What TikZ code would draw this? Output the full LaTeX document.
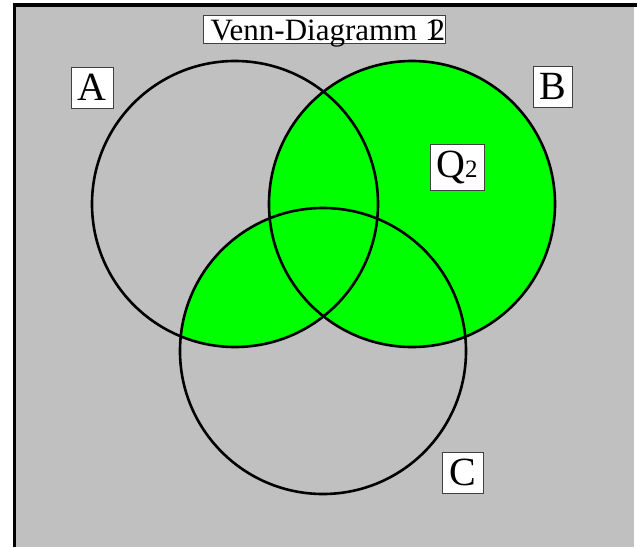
\documentclass[tikz,border=0pt]{standalone}
\usepackage{fontspec}
\setmainfont{Liberation Serif}
\definecolor{bg}{HTML}{C0C0C0}
\definecolor{vgreen}{HTML}{00FF00}
\begin{document}
\begin{tikzpicture}[x=1pt,y=-1pt,
  lblbox/.style={draw=black!75, line width=0.9pt, fill=white, inner sep=0pt, font=\fontsize{40}{40}\selectfont},
  circ/.style={draw=black, line width=2.6pt},
  ttext/.style={inner sep=0pt, font=\fontsize{31}{31}\selectfont}]
\useasboundingbox (0,0) rectangle (640,547);
\fill[white] (0,0) rectangle (640,547);
\fill[bg] (16,7) rectangle (634,547);
\draw[line width=4pt] (12.5,5.3) -- (637,5.3);
\draw[line width=3.5pt] (14.5,3.3) -- (14.5,547);
% green region: B union (A cap C)
\fill[vgreen] (412,204) circle[radius=143];
\begin{scope}
  \clip (235,204) circle[radius=143];
  \fill[vgreen] (323,351) circle[radius=143];
\end{scope}
% circles
\draw[circ] (235,204) circle[radius=143];
\draw[circ] (412,204) circle[radius=143];
\draw[circ] (323,351) circle[radius=143];
% title
\node[lblbox, minimum width=242, minimum height=28] (titlebox) at (324,29) {};
\node[ttext, anchor=base west] (titletext) at (210.5,40.5) {Venn-Diagramm 1};
\node[ttext, anchor=base west] (titletwo) at ([xshift=-11.3pt]titletext.base east) {2};
% labels
\node[lblbox, minimum width=42, minimum height=41] (A) at (92,87.5) {A};
\node[lblbox, minimum width=39, minimum height=41] (B) at (552.5,86.5) {B};
\node[lblbox, minimum width=41, minimum height=41] (C) at (462.5,472.5) {C};
\node[lblbox, minimum width=54, minimum height=46] (Q) at (457,167) {Q\fontsize{25}{25}\selectfont 2};
\end{tikzpicture}
\end{document}
